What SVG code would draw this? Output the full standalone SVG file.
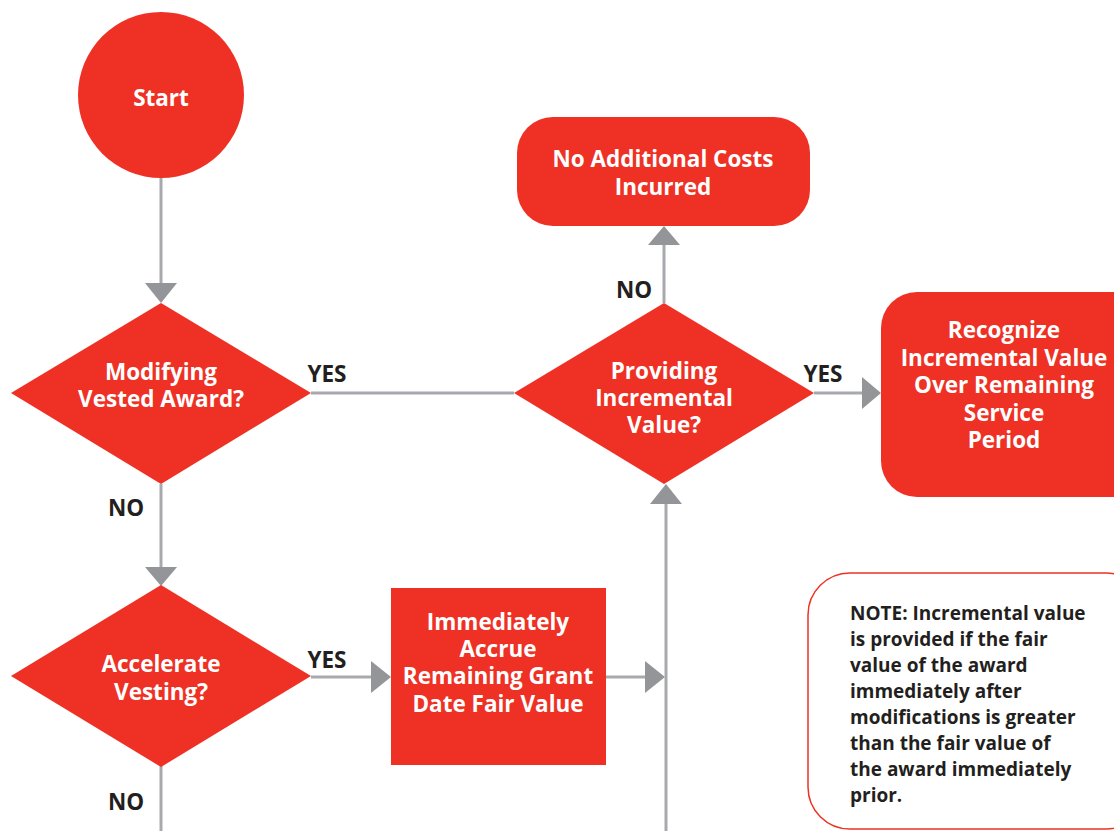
<svg xmlns="http://www.w3.org/2000/svg" width="1114" height="831" viewBox="0 0 1114 831">
<defs>
<style>
.node{fill:#ee3124}
.t{font-family:"Open Sans","Liberation Sans",sans-serif;font-weight:bold;font-size:22.5px;fill:#ffffff;text-anchor:middle}
.lbl{font-family:"Open Sans","Liberation Sans",sans-serif;font-weight:bold;font-size:22.5px;fill:#231f20;text-anchor:middle}
.note{font-family:"Open Sans","Liberation Sans",sans-serif;font-weight:bold;font-size:19px;fill:#231f20}
.ln{stroke:#a7a9ac;stroke-width:3;fill:none}
.ah{fill:#939598}
</style>
</defs>
<rect width="1114" height="831" fill="#ffffff"/>
<g id="connectors">
<line class="ln" x1="161" y1="177" x2="161" y2="285"/>
<polygon class="ah" points="145,283 177,283 161,303"/>
<line class="ln" x1="161" y1="484" x2="161" y2="569"/>
<polygon class="ah" points="145,567 177,567 161,586"/>
<line class="ln" x1="311" y1="393" x2="514" y2="393"/>
<line class="ln" x1="664" y1="303" x2="664" y2="243"/>
<polygon class="ah" points="648,245 680,245 664,226"/>
<line class="ln" x1="814" y1="393" x2="864" y2="393"/>
<polygon class="ah" points="862,377 862,409 881,393"/>
<line class="ln" x1="311" y1="677" x2="373" y2="677"/>
<polygon class="ah" points="371,661 371,693 391,677"/>
<line class="ln" x1="606" y1="677" x2="647" y2="677"/>
<polygon class="ah" points="645,661 645,693 665,677"/>
<line class="ln" x1="666" y1="831" x2="666" y2="502"/>
<polygon class="ah" points="650,504 682,504 666,484"/>
<line class="ln" x1="161" y1="766" x2="161" y2="831"/>
<text class="lbl" x="327" y="382">YES</text>
<text class="lbl" x="823" y="382">YES</text>
<text class="lbl" x="327" y="668">YES</text>
<text class="lbl" x="634" y="298">NO</text>
<text class="lbl" x="126" y="516">NO</text>
<text class="lbl" x="126" y="810">NO</text>
</g>
<g id="start">
<circle class="node" cx="161" cy="95" r="83"/>
<text class="t" x="161" y="106">Start</text>
</g>
<g id="modifying">
<polygon class="node" points="11,393 161,303 311,393 161,484"/>
<text class="t" x="161" y="380">Modifying</text>
<text class="t" x="161" y="407">Vested Award?</text>
</g>
<g id="providing">
<polygon class="node" points="514,393 664,303 814,393 664,484"/>
<text class="t" x="664" y="379">Providing</text>
<text class="t" x="664" y="406">Incremental</text>
<text class="t" x="664" y="433">Value?</text>
</g>
<g id="no-costs">
<rect class="node" x="517" y="117" width="293" height="109" rx="36"/>
<text class="t" x="663" y="167">No Additional Costs</text>
<text class="t" x="663" y="195">Incurred</text>
</g>
<g id="recognize">
<rect class="node" x="881" y="292" width="270" height="205" rx="36"/>
<text class="t" x="1004" y="338">Recognize</text>
<text class="t" x="1004" y="366">Incremental Value</text>
<text class="t" x="1004" y="393">Over Remaining</text>
<text class="t" x="1004" y="421">Service</text>
<text class="t" x="1004" y="448">Period</text>
</g>
<g id="accelerate">
<polygon class="node" points="11,676 161,585 311,676 161,767"/>
<text class="t" x="161" y="672">Accelerate</text>
<text class="t" x="161" y="700">Vesting?</text>
</g>
<g id="accrue">
<rect class="node" x="391" y="588" width="215" height="177"/>
<text class="t" x="498" y="630">Immediately</text>
<text class="t" x="498" y="657">Accrue</text>
<text class="t" x="498" y="684">Remaining Grant</text>
<text class="t" x="498" y="712">Date Fair Value</text>
</g>
<g id="note">
<rect x="808" y="573" width="340" height="256" rx="42" fill="#ffffff" stroke="#ee3124" stroke-width="1.5"/>
<text class="note" x="850" y="620">NOTE: Incremental value</text>
<text class="note" x="850" y="646">is provided if the fair</text>
<text class="note" x="850" y="672">value of the award</text>
<text class="note" x="850" y="698">immediately after</text>
<text class="note" x="850" y="724">modifications is greater</text>
<text class="note" x="850" y="750">than the fair value of</text>
<text class="note" x="850" y="776">the award immediately</text>
<text class="note" x="850" y="802">prior.</text>
</g>
</svg>
